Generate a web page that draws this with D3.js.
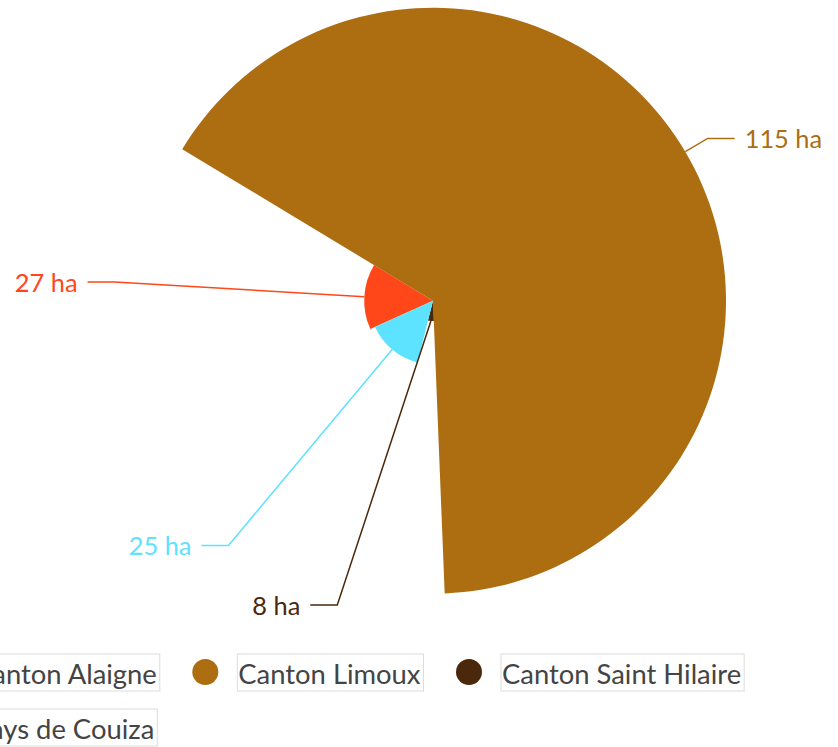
<!DOCTYPE html>
<html><head><meta charset="utf-8">
<script src="https://cdn.jsdelivr.net/npm/d3@7"></script>
<style>html,body{margin:0;padding:0;background:#fff;overflow:hidden}</style>
</head><body>
<svg id="chart" width="838" height="747"></svg>
<script>
const categories = ["Canton Alaigne", "Canton Limoux", "Canton Saint Hilaire", "Pays de Couiza"];
const values = [27, 115, 8, 25];
const unit = "ha";
const colors = ["#FF4719", "#AC6E11", "#4A280C", "#5DE2FF"];

const W = 838, H = 747;
const cx = 433, cy = 300.7, R = 293;
const FONT = "Lato, sans-serif";
const svg = d3.select("#chart");
const deg = Math.PI / 180;

const rScale = d3.scaleLinear().domain([0, d3.max(values)]).range([0, R]);
const pie = d3.pie().sort(null).startAngle(-114.4 * deg).endAngle(245.6 * deg);
const arcs = pie(values);
const arc = d3.arc().innerRadius(0).outerRadius(d => rScale(d.data));

const g = svg.append("g").attr("transform", `translate(${cx},${cy})`);
g.selectAll("path.slice").data(arcs).join("path")
  .attr("class", "slice")
  .attr("d", arc)
  .attr("fill", (d, i) => colors[i]);

// labels
const polar = (r, a) => [r * Math.sin(a), -r * Math.cos(a)];
const elbowR = R + 26, len2 = 27, maxY = 605 - cy;
arcs.forEach((d, i) => {
  const a = (d.startAngle + d.endAngle) / 2;
  const p0 = polar(rScale(d.data), a);
  let p1 = polar(elbowR, a);
  const right = Math.sin(a) > 0;
  if (p1[1] > maxY) {
    p1 = [(right ? 1 : -1) * Math.sqrt(elbowR * elbowR - maxY * maxY), maxY];
  }
  const p2 = [p1[0] + (right ? len2 : -len2), p1[1]];
  g.append("polyline")
    .attr("points", [p0, p1, p2].map(p => p.join(",")).join(" "))
    .attr("fill", "none").attr("stroke", colors[i]).attr("stroke-width", 1.5);
  g.append("text")
    .attr("x", p2[0] + (right ? 10 : -10)).attr("y", p2[1])
    .attr("text-anchor", right ? "start" : "end")
    .attr("dominant-baseline", "central")
    .attr("font-family", FONT).attr("font-size", 25.4)
    .attr("fill", colors[i])
    .text(`${d.data} ${unit}`);
});

// legend
const LFS = 27.4, circR = 13, gapCT = 31.5, gapItem = 46, boxH = 37, rowGap = 55;
const leg = svg.append("g");
function textW(t, fs) {
  const tmp = svg.append("text").attr("font-family", FONT).attr("font-size", fs).text(t);
  const w = tmp.node().getComputedTextLength(); tmp.remove(); return w;
}
const widths = categories.map(c => textW(c, LFS) + 4);
const rows = [[0, 1, 2], [3]];
const startX = 159.3 - widths[0] - gapCT;
rows.forEach((row, ri) => {
  let x = startX;
  const y = 672 + ri * rowGap;
  row.forEach(i => {
    leg.append("circle").attr("cx", x).attr("cy", y).attr("r", circR).attr("fill", colors[i]);
    const bx = x + gapCT;
    leg.append("rect").attr("x", bx + 0.5).attr("y", y - boxH / 2 + 0.5)
      .attr("width", widths[i]).attr("height", boxH)
      .attr("fill", "#fff").attr("stroke", "#dcdcdc").attr("stroke-width", 1);
    leg.append("text").attr("x", bx + 1.5).attr("y", y + 1)
      .attr("dominant-baseline", "central")
      .attr("font-family", FONT).attr("font-size", LFS).attr("fill", "#444")
      .text(categories[i]);
    x = bx + widths[i] + gapItem;
  });
});
</script>
</body></html>
